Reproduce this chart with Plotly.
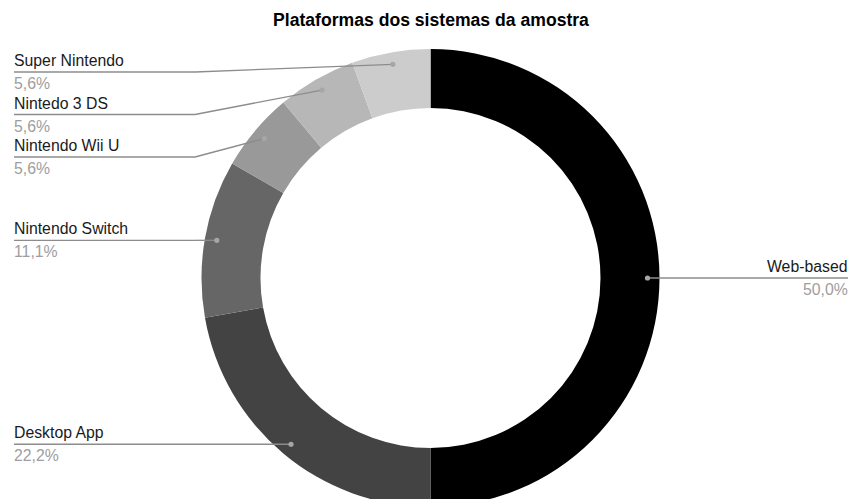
import math
import plotly.graph_objects as go

# ---------------- data ----------------
title_text = "Plataformas dos sistemas da amostra"
labels = ["Web-based", "Desktop App", "Nintendo Switch", "Nintendo Wii U", "Nintedo 3 DS", "Super Nintendo"]
values = [9, 4, 2, 1, 1, 1]
colors = ["#000000", "#434343", "#666666", "#999999", "#b7b7b7", "#cccccc"]

# ---------------- layout constants ----------------
W, H = 850, 516          # figure is a bit taller than the window: bottom of donut is clipped
CX, CY, R = 430.5, 278.0, 229.0
R_IN = 170.0
R_DOT = 217.0
FONT = "Arial, Liberation Sans, sans-serif"
LABEL_SIZE = 15.8
LEFT_X, KINK_X, RIGHT_X = 14.0, 195.0, 848.0
TOP_LABEL_Y, LABEL_GAP = 72.0, 42.5
LINE_COLOR = "#8c8c8c"


def px(x):
    return x / W


def py(y):
    return 1 - y / H


total = sum(values)
fig = go.Figure()
fig.add_trace(go.Pie(
    labels=labels, values=values, sort=False, direction="clockwise", rotation=0,
    hole=R_IN / R, marker=dict(colors=colors, line=dict(width=0)),
    textinfo="none", hoverinfo="label+percent", showlegend=False,
    domain=dict(x=[px(CX - R), px(CX + R)], y=[py(CY + R), py(CY - R)]),
))

# leader lines / labels computed from the slice angles
items = []
cum = 0
for lab, v in zip(labels, values):
    mid = (cum + v / 2) / total * 2 * math.pi
    cum += v
    dx = CX + R_DOT * math.sin(mid)
    dy = CY - R_DOT * math.cos(mid)
    pct = f"{v / total * 100:.1f}%".replace(".", ",")
    items.append(dict(label=lab, pct=pct, dx=dx, dy=dy, right=math.sin(mid) > 0.01))

shapes, annotations = [], []
left = sorted([it for it in items if not it["right"]], key=lambda d: d["dy"])
prev = None
for it in left:
    ly = max(it["dy"], TOP_LABEL_Y if prev is None else prev + LABEL_GAP)
    it["ly"] = ly
    prev = ly
for it in items:
    if it["right"]:
        it["ly"] = it["dy"]

for it in items:
    ly, dx, dy = it["ly"], it["dx"], it["dy"]
    if it["right"]:
        pts = [(dx, dy), (RIGHT_X, ly)]
        tx, anchor = RIGHT_X, "right"
    else:
        pts = [(LEFT_X, ly), (KINK_X, ly), (dx, dy)]
        tx, anchor = LEFT_X, "left"
    for (x0, y0), (x1, y1) in zip(pts[:-1], pts[1:]):
        shapes.append(dict(type="line", xref="paper", yref="paper", layer="above",
                           x0=px(x0), y0=py(y0), x1=px(x1), y1=py(y1),
                           line=dict(color=LINE_COLOR, width=1.3)))
    rd = 2.6
    shapes.append(dict(type="circle", xref="paper", yref="paper", layer="above",
                       x0=px(dx - rd), x1=px(dx + rd), y0=py(dy + rd), y1=py(dy - rd),
                       fillcolor="#a6a6a6", line=dict(width=0)))
    annotations.append(dict(text=it["label"], x=px(tx), y=py(ly - 11.5), xref="paper", yref="paper",
                            xanchor=anchor, yanchor="middle", showarrow=False,
                            borderpad=0, borderwidth=0,
                            font=dict(family=FONT, size=LABEL_SIZE, color="#1a1a1a")))
    annotations.append(dict(text=it["pct"], x=px(tx), y=py(ly + 11.5), xref="paper", yref="paper",
                            xanchor=anchor, yanchor="middle", showarrow=False,
                            borderpad=0, borderwidth=0,
                            font=dict(family=FONT, size=LABEL_SIZE, color="#9e9e9e")))

fig.update_layout(
    width=W, height=H, margin=dict(l=0, r=0, t=0, b=0),
    paper_bgcolor="white", plot_bgcolor="white",
    title=dict(text="<b>" + title_text + "</b>", x=px(431), y=py(20.3), xanchor="center", yanchor="middle",
               font=dict(family=FONT, size=17.6, color="#000000")),
    shapes=shapes, annotations=annotations,
)

fig.write_html("out.html", config={"displayModeBar": False},
               post_script="document.body.style.overflow='hidden';document.documentElement.style.overflow='hidden';document.body.style.margin='0';")
